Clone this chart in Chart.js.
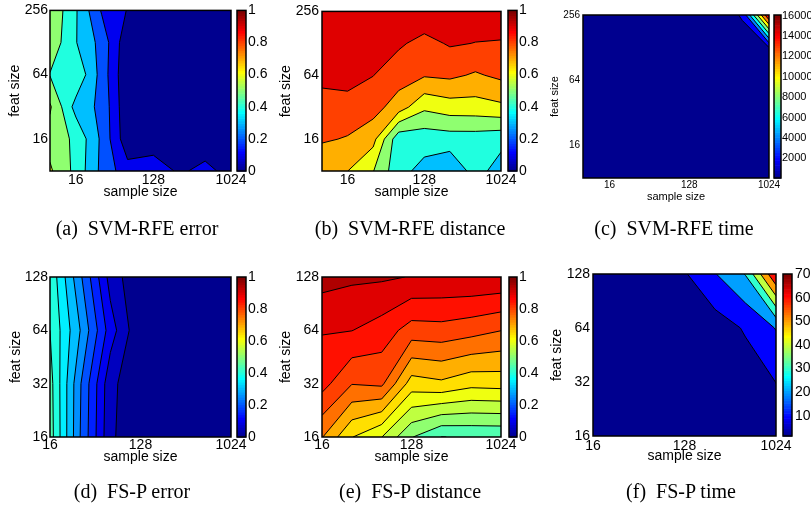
<!DOCTYPE html>
<html><head><meta charset="utf-8">
<script src="https://cdn.jsdelivr.net/npm/chart.js@4/dist/chart.umd.min.js"></script>
<style>
html,body{margin:0;padding:0;background:#fff}
body{width:811px;height:512px;overflow:hidden;position:relative}
canvas{position:absolute;left:0;top:0}
.cap{position:absolute;font-family:"Liberation Serif","Times New Roman",serif;font-size:20px;color:#000;white-space:pre;transform:translate(-50%,-50%);line-height:1}
</style></head><body>
<script>
// ---------- data ----------
const sampleSizesTop = [8, 16, 32, 64, 128, 256, 512, 1024];
const featSizesTop = [8, 16, 32, 64, 128, 256];
const sampleSizesBottom = [16, 32, 64, 128, 256, 512, 1024];
const featSizesBottom = [16, 32, 64, 128];
const xTickValues = [16, 128, 1024];
const xTickLabels = ['16', '128', '1024'];
const yTickValuesTop = [16, 64, 256];
const yTickLabelsTop = ['16', '64', '256'];
const yTickValuesBottom = [16, 32, 64, 128];
const yTickLabelsBottom = ['16', '32', '64', '128'];

// grids: one row per feat size (smallest first), one column per sample size
const svmRfeError = [
  [0.615, 0.471, 0.274, 0.139, 0.177, 0.08, 0.136, 0.056],
  [0.56, 0.48, 0.28, 0.03, 0.02, 0.02, 0.02, 0.02],
  [0.6125, 0.3625, 0.275, 0.017, 0.02, 0.02, 0.02, 0.02],
  [0.495, 0.487, 0.26, 0.01, 0.02, 0.02, 0.02, 0.02],
  [0.57, 0.405, 0.265, 0.025, 0.02, 0.02, 0.02, 0.02],
  [0.59, 0.41, 0.19, 0.095, 0.03, 0.02, 0.02, 0.02]
];
const svmRfeDistance = [
  [0.73, 0.701, 0.604, 0.431, 0.369, 0.32, 0.44, 0.354],
  [0.81, 0.794, 0.732, 0.43, 0.44, 0.45, 0.45, 0.432],
  [0.855, 0.85, 0.84, 0.75, 0.62, 0.653, 0.657, 0.679],
  [0.93, 0.95, 0.902, 0.846, 0.809, 0.82, 0.788, 0.821],
  [0.95, 0.96, 0.95, 0.914, 0.87, 0.91, 0.898, 0.894],
  [0.97, 0.97, 0.97, 0.97, 0.97, 0.96, 0.95, 0.95]
];
const svmRfeTime = [
  [80, 85, 90, 100, 115, 150, 230, 420],
  [85, 90, 95, 110, 135, 190, 320, 620],
  [90, 95, 105, 125, 165, 250, 450, 900],
  [95, 100, 115, 150, 210, 340, 650, 1350],
  [100, 110, 130, 180, 270, 450, 900, 1950],
  [110, 120, 150, 220, 360, 600, 2230, 16050]
];
const fsPError = [
  [0.475, 0.25, 0.06, 0.004, 0.003, 0.003, 0.003],
  [0.47, 0.255, 0.065, 0.004, 0.003, 0.003, 0.003],
  [0.45, 0.30, 0.125, 0.005, 0.003, 0.003, 0.003],
  [0.44, 0.26, 0.08, 0.004, 0.003, 0.003, 0.003]
];
const fsPDistance = [
  [0.753, 0.652, 0.601, 0.503, 0.449, 0.455, 0.456],
  [0.869, 0.802, 0.81, 0.677, 0.69, 0.666, 0.67],
  [0.903, 0.901, 0.878, 0.828, 0.832, 0.819, 0.801],
  [0.97, 0.959, 0.957, 0.948, 0.944, 0.946, 0.943]
];
const fsPTime = [
  [1.5, 1.6, 1.8, 2.2, 3.0, 4.5, 7.0],
  [1.7, 1.9, 2.3, 3.0, 3.8, 5.0, 10.1],
  [2.0, 2.3, 3.0, 4.2, 5.0, 11, 20.5],
  [2.4, 3.0, 4.5, 9.0, 19.5, 30.5, 70]
];

// contour levels (first entry = base of the lowest band)
const levelsError = [0, 0.1, 0.2, 0.3, 0.4, 0.5, 0.6];
const levelsDistance = [0.3, 0.4, 0.5, 0.6, 0.7, 0.8, 0.9];
const levelsTime = [80, 2000, 4000, 6000, 8000, 10000, 12000, 14000, 16000];
const levelsFsError = [0, 0.05, 0.1, 0.15, 0.2, 0.25, 0.3, 0.35, 0.4, 0.45];
const levelsFsDistance = [0.4, 0.45, 0.5, 0.55, 0.6, 0.65, 0.7, 0.75, 0.8, 0.85, 0.9, 0.95];
const levelsFsTime = [1.5, 10, 20, 30, 40, 50, 60, 70];

const cbTicksUnit = [0, 0.2, 0.4, 0.6, 0.8, 1];
const cbLabelsUnit = ['0', '0.2', '0.4', '0.6', '0.8', '1'];
const cbTicksTime = [2000, 4000, 6000, 8000, 10000, 12000, 14000, 16000];
const cbLabelsTime = ['2000', '4000', '6000', '8000', '10000', '12000', '14000', '16000'];
const cbTicksFsTime = [10, 20, 30, 40, 50, 60, 70];
const cbLabelsFsTime = ['10', '20', '30', '40', '50', '60', '70'];

const captions = ['(a)  SVM-RFE error', '(b)  SVM-RFE distance', '(c)  SVM-RFE time',
                  '(d)  FS-P error', '(e)  FS-P distance', '(f)  FS-P time'];

// ---------- colormap (MATLAB jet, 64 entries) ----------
function jet64(idx) {
  let r, g, b;
  if (idx <= 8) { r = 0; g = 0; b = 0.5 + 0.0625 * idx; }
  else if (idx <= 24) { r = 0; g = 0.0625 * (idx - 8); b = 1; }
  else if (idx <= 40) { r = 0.0625 * (idx - 24); g = 1; b = 1 - 0.0625 * (idx - 24); }
  else if (idx <= 56) { r = 1; g = 1 - 0.0625 * (idx - 40); b = 0; }
  else { r = 1 - 0.0625 * (idx - 56); g = 0; b = 0; }
  return 'rgb(' + Math.round(r * 255) + ',' + Math.round(g * 255) + ',' + Math.round(b * 255) + ')';
}
function levelColor(v, cmin, cmax) {
  let idx = Math.floor((v - cmin) / (cmax - cmin) * 64 + 1e-9) + 1;
  idx = Math.max(1, Math.min(64, idx));
  return jet64(idx);
}

Chart.defaults.font.family = '"Liberation Sans", Arial, Helvetica, sans-serif';
Chart.defaults.color = '#000';

const W = 811, H = 512, CBW = 900;

function contourPlugin(cfg) {
  return {
    id: 'contour',
    beforeDatasetsDraw(chart) {
      const ctx = chart.ctx, a = chart.chartArea;
      const sx = chart.scales.x, sy = chart.scales.y;
      const LX = cfg.xs.map(Math.log2), LY = cfg.ys.map(Math.log2), Z = cfg.z;
      const P = (q) => [sx.getPixelForValue(Math.pow(2, q[0])), sy.getPixelForValue(Math.pow(2, q[1]))];
      ctx.save();
      ctx.beginPath(); ctx.rect(a.left, a.top, a.right - a.left, a.bottom - a.top); ctx.clip();
      ctx.fillStyle = levelColor(cfg.levels[0], cfg.cmin, cfg.cmax);
      ctx.fillRect(a.left, a.top, a.right - a.left, a.bottom - a.top);
      const lines = [];
      for (let k = 1; k < cfg.levels.length; k++) {
        const L = cfg.levels[k];
        const polys = [];
        for (let j = 0; j < LY.length - 1; j++) {
          for (let i = 0; i < LX.length - 1; i++) {
            const c = [[LX[i], LY[j], Z[j][i]], [LX[i + 1], LY[j], Z[j][i + 1]],
                       [LX[i + 1], LY[j + 1], Z[j + 1][i + 1]], [LX[i], LY[j + 1], Z[j + 1][i]]];
            const ins = c.map(q => q[2] >= L);
            const n = ins.filter(Boolean).length;
            if (n === 0) continue;
            if (n === 4) { polys.push(c); continue; }
            const p = [null, null, null, null];
            for (let m = 0; m < 4; m++) {
              const A = c[m], B = c[(m + 1) % 4];
              if (ins[m] !== ins[(m + 1) % 4]) {
                const t = (L - A[2]) / (B[2] - A[2]);
                p[m] = [A[0] + t * (B[0] - A[0]), A[1] + t * (B[1] - A[1])];
              }
            }
            const saddle = n === 2 && ins[0] === ins[2];
            if (saddle) {
              const center = (c[0][2] + c[1][2] + c[2][2] + c[3][2]) / 4;
              if (center >= L) {
                const poly = [];
                for (let m = 0; m < 4; m++) { if (ins[m]) poly.push(c[m]); if (p[m]) poly.push(p[m]); }
                polys.push(poly);
                for (let m = 0; m < 4; m++) if (!ins[m]) lines.push([p[(m + 3) % 4], p[m]]);
              } else {
                for (let m = 0; m < 4; m++) if (ins[m]) {
                  polys.push([p[(m + 3) % 4], c[m], p[m]]);
                  lines.push([p[(m + 3) % 4], p[m]]);
                }
              }
            } else {
              const poly = [], seg = [];
              for (let m = 0; m < 4; m++) {
                if (ins[m]) poly.push(c[m]);
                if (p[m]) { poly.push(p[m]); seg.push(p[m]); }
              }
              polys.push(poly); lines.push(seg);
            }
          }
        }
        ctx.beginPath();
        for (const poly of polys) {
          poly.forEach((q, idx) => { const r = P(q); if (idx) ctx.lineTo(r[0], r[1]); else ctx.moveTo(r[0], r[1]); });
          ctx.closePath();
        }
        ctx.fillStyle = levelColor(L, cfg.cmin, cfg.cmax);
        ctx.fill('nonzero');
      }
      ctx.beginPath();
      for (const s of lines) {
        const r0 = P(s[0]), r1 = P(s[1]);
        ctx.moveTo(r0[0], r0[1]); ctx.lineTo(r1[0], r1[1]);
      }
      ctx.strokeStyle = '#000'; ctx.lineWidth = 1; ctx.lineJoin = 'round'; ctx.stroke();
      ctx.restore();
      ctx.save();
      ctx.strokeStyle = '#000'; ctx.lineWidth = 1.5;
      ctx.strokeRect(a.left, a.top, a.right - a.left, a.bottom - a.top);
      ctx.restore();
    }
  };
}

function colorbarPlugin(cfg) {
  return {
    id: 'colorbar',
    beforeDatasetsDraw(chart) {
      const ctx = chart.ctx, a = chart.chartArea, sy = chart.scales.y;
      ctx.save();
      for (let k = 0; k < 64; k++) {
        const v0 = cfg.cmin + (cfg.cmax - cfg.cmin) * k / 64;
        const v1 = cfg.cmin + (cfg.cmax - cfg.cmin) * (k + 1) / 64;
        const y0 = sy.getPixelForValue(v0), y1 = sy.getPixelForValue(v1);
        ctx.fillStyle = jet64(k + 1);
        ctx.fillRect(a.left, y1, a.right - a.left, (y0 - y1) + 0.6);
      }
      ctx.strokeStyle = '#000'; ctx.lineWidth = 1.5;
      ctx.strokeRect(a.left, a.top, a.right - a.left, a.bottom - a.top);
      ctx.restore();
    }
  };
}

function newCanvas(w) {
  const c = document.createElement('canvas');
  c.width = w; c.height = H;
  c.style.width = w + 'px'; c.style.height = H + 'px';
  document.body.appendChild(c);
  return c;
}

function makePanel(cfg) {
  const p = cfg.plot;
  new Chart(newCanvas(W), {
    type: 'scatter',
    data: { datasets: [] },
    options: {
      responsive: false, animation: false, devicePixelRatio: 1,
      layout: { padding: { left: p.l - cfg.wy, top: p.t, right: W - p.r, bottom: H - p.b - cfg.hx } },
      plugins: { legend: { display: false }, tooltip: { enabled: false } },
      scales: {
        x: {
          type: 'logarithmic', position: 'bottom', min: cfg.xMin, max: cfg.xMax, bounds: 'data',
          afterBuildTicks: s => { s.ticks = cfg.xTicks.map(v => ({ value: v })); },
          afterFit: s => { s.height = cfg.hx; },
          ticks: { autoSkip: false, maxRotation: 0, minRotation: 0, padding: cfg.xPad,
                   font: { size: cfg.tickSize }, color: '#000',
                   callback: (v, i) => cfg.xLabels[i] },
          grid: { display: false, drawTicks: false }, border: { display: false },
          title: { display: true, text: 'sample size', font: { size: cfg.titleSize }, color: '#000', padding: 0 }
        },
        y: {
          type: 'logarithmic', position: 'left', min: cfg.yMin, max: cfg.yMax, bounds: 'data',
          afterBuildTicks: s => { s.ticks = cfg.yTicks.map(v => ({ value: v })); },
          afterFit: s => { s.width = cfg.wy; },
          ticks: { autoSkip: false, padding: cfg.yPad, font: { size: cfg.tickSize }, color: '#000',
                   callback: (v, i) => cfg.yLabels[i] },
          grid: { display: false, drawTicks: false }, border: { display: false },
          title: { display: true, text: 'feat size', font: { size: cfg.titleSize }, color: '#000', padding: 0 }
        }
      }
    },
    plugins: [contourPlugin(cfg)]
  });
  const cb = cfg.cb, cbw = 60;
  new Chart(newCanvas(CBW), {
    type: 'scatter',
    data: { datasets: [] },
    options: {
      responsive: false, animation: false, devicePixelRatio: 1,
      layout: { padding: { left: cb.l, top: cb.t, right: CBW - cb.r - cbw, bottom: H - cb.b } },
      plugins: { legend: { display: false }, tooltip: { enabled: false } },
      scales: {
        x: { display: false, min: 0, max: 1 },
        y: {
          type: 'linear', position: 'right', min: cfg.cmin, max: cfg.cmax, bounds: 'data',
          afterBuildTicks: s => { s.ticks = cfg.cbTicks.map(v => ({ value: v })); },
          afterFit: s => { s.width = cbw; },
          ticks: { autoSkip: false, padding: cfg.cbPad, font: { size: cfg.cbSize }, color: '#000',
                   callback: (v, i) => cfg.cbLabels[i] },
          grid: { display: false, drawTicks: false }, border: { display: false }
        }
      }
    },
    plugins: [colorbarPlugin(cfg)]
  });
}

const topCommon = { xs: sampleSizesTop, ys: featSizesTop, xMin: 8, xMax: 1024, yMin: 8, yMax: 256,
  xTicks: xTickValues, xLabels: xTickLabels, yTicks: yTickValuesTop, yLabels: yTickLabelsTop };
const botCommon = { xs: sampleSizesBottom, ys: featSizesBottom, xMin: 16, xMax: 1024, yMin: 16, yMax: 128,
  xTicks: xTickValues, xLabels: xTickLabels, yTicks: yTickValuesBottom, yLabels: yTickLabelsBottom };
const bigText = { tickSize: 14, titleSize: 14, cbSize: 14 };

makePanel(Object.assign({}, topCommon, bigText, {
  plot: { l: 50, t: 10, r: 231, b: 171 }, cb: { l: 237, t: 10, r: 246, b: 171 },
  z: svmRfeError, levels: levelsError, cmin: 0, cmax: 1, cbTicks: cbTicksUnit, cbLabels: cbLabelsUnit,
  wy: 43.4, hx: 29.7, xPad: 1, yPad: 2, cbPad: 2 }));
makePanel(Object.assign({}, topCommon, bigText, {
  plot: { l: 322, t: 10, r: 501, b: 171 }, cb: { l: 508, t: 10, r: 517, b: 171 },
  z: svmRfeDistance, levels: levelsDistance, cmin: 0, cmax: 1, cbTicks: cbTicksUnit, cbLabels: cbLabelsUnit,
  wy: 44.4, hx: 29.7, xPad: 1, yPad: 3, cbPad: 2 }));
makePanel(Object.assign({}, topCommon, {
  tickSize: 10, titleSize: 11, cbSize: 11,
  plot: { l: 583, t: 15, r: 769, b: 178 }, cb: { l: 774, t: 15, r: 781, b: 178 },
  z: svmRfeTime, levels: levelsTime, cmin: 80, cmax: 16050, cbTicks: cbTicksTime, cbLabels: cbLabelsTime,
  wy: 34.6, hx: 25.6, xPad: 1, yPad: 3, cbPad: 1 }));
makePanel(Object.assign({}, botCommon, bigText, {
  plot: { l: 50, t: 277, r: 231, b: 437 }, cb: { l: 237, t: 277, r: 246, b: 437 },
  z: fsPError, levels: levelsFsError, cmin: 0, cmax: 1, cbTicks: cbTicksUnit, cbLabels: cbLabelsUnit,
  wy: 42.4, hx: 28.4, xPad: 0, yPad: 2, cbPad: 2 }));
makePanel(Object.assign({}, botCommon, bigText, {
  plot: { l: 322, t: 277, r: 501, b: 437 }, cb: { l: 509, t: 277, r: 517, b: 437 },
  z: fsPDistance, levels: levelsFsDistance, cmin: 0, cmax: 1, cbTicks: cbTicksUnit, cbLabels: cbLabelsUnit,
  wy: 44.4, hx: 28.4, xPad: 0, yPad: 3, cbPad: 2 }));
makePanel(Object.assign({}, botCommon, bigText, {
  plot: { l: 593, t: 274, r: 776, b: 436 }, cb: { l: 783, t: 274, r: 792, b: 436 },
  z: fsPTime, levels: levelsFsTime, cmin: 1.5, cmax: 70, cbTicks: cbTicksFsTime, cbLabels: cbLabelsFsTime,
  wy: 44.7, hx: 28.4, xPad: 1.4, yPad: 3, cbPad: 3 }));

// captions
const capPos = [[137, 228], [410, 228], [674, 228], [132, 491], [410, 491], [681, 491]];
captions.forEach((t, i) => {
  const d = document.createElement('div');
  d.className = 'cap'; d.textContent = t;
  d.style.left = capPos[i][0] + 'px'; d.style.top = capPos[i][1] + 'px';
  document.body.appendChild(d);
});
</script>
</body></html>
